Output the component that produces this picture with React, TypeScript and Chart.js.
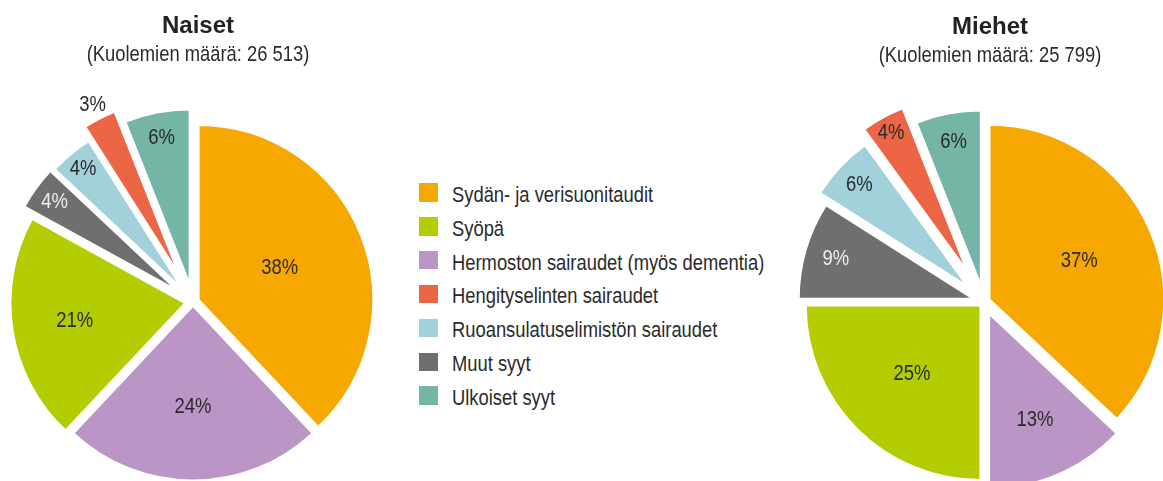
import React, { useEffect, useRef } from 'react';
import { Chart, registerables, layouts } from 'chart.js';

Chart.register(...registerables);

// ---------- data ----------
const causes = [
  'Sydän- ja verisuonitaudit',
  'Hermoston sairaudet (myös dementia)',
  'Syöpä',
  'Muut syyt',
  'Ruoansulatuselimistön sairaudet',
  'Hengityselinten sairaudet',
  'Ulkoiset syyt',
];
const naisetShares = [38, 24, 21, 4, 4, 3, 6];
const miehetShares = [37, 13, 25, 9, 6, 4, 6];
const naisetDeaths = '26 513';
const miehetDeaths = '25 799';
const legendOrder = [
  'Sydän- ja verisuonitaudit',
  'Syöpä',
  'Hermoston sairaudet (myös dementia)',
  'Hengityselinten sairaudet',
  'Ruoansulatuselimistön sairaudet',
  'Muut syyt',
  'Ulkoiset syyt',
];

// ---------- styles ----------
const causeColors: Record<string, string> = {
  'Sydän- ja verisuonitaudit': '#F7A800',
  'Hermoston sairaudet (myös dementia)': '#BA95C6',
  'Syöpä': '#B4CC02',
  'Muut syyt': '#6F6F6F',
  'Ruoansulatuselimistön sairaudet': '#A2D1DC',
  'Hengityselinten sairaudet': '#EC6544',
  'Ulkoiset syyt': '#74B5A6',
};
const labelColorFor = (c: string) => (c === 'Muut syyt' ? '#eeeeee' : '#2a2a2a');
const SANS = "'Liberation Sans', Arial, sans-serif";
const CONDENSE = 0.82; // emulate a condensed face
const TEXT = '#2b2b2b';

// per-slice explode distance (px) and label radius (fraction of radius)
const naisetExplode = [6, 4, 8, 19, 17, 31, 18];
const miehetExplode = [6, 13, 5, 11, 22.5, 35.5, 17];
const naisetLabelR = [0.5, 0.58, 0.64, 0.87, 0.89, 1.09, 0.855];
const miehetLabelR = [0.56, 0.66, 0.555, 0.82, 0.85, 0.9, 0.835];

// ---------- plugins ----------
function baseBox(position: string, weight: number, fullSize: boolean) {
  return {
    position,
    weight,
    fullSize,
    options: { display: true },
    left: 0, top: 0, right: 0, bottom: 0, width: 0, height: 0,
    isHorizontal() {
      return position === 'top' || position === 'bottom';
    },
  };
}

function makeSpacer(size: number) {
  return {
    id: 'spacer',
    start(chart: any) {
      const box: any = {
        ...baseBox('right', 0, false),
        update(_w: number, maxHeight: number) {
          this.width = size;
          this.height = maxHeight;
        },
        draw() {},
      };
      layouts.addBox(chart, box);
    },
  };
}

function makeSubtitle(text: string, height: number, baseline: number) {
  return {
    id: 'condensedSubtitle',
    start(chart: any) {
      const box: any = {
        ...baseBox('top', 1500, true),
        update(maxWidth: number) {
          this.width = maxWidth;
          this.height = height;
        },
        draw() {
          const ctx = chart.ctx;
          ctx.save();
          ctx.font = `22.4px ${SANS}`;
          ctx.fillStyle = TEXT;
          ctx.textAlign = 'center';
          ctx.textBaseline = 'alphabetic';
          const w = ctx.measureText(text).width;
          ctx.fillText(text, (this.left + this.right) / 2, this.top + baseline, w * CONDENSE);
          ctx.restore();
        },
      };
      layouts.addBox(chart, box);
    },
  };
}

function makeExplode(offsets: number[]) {
  return {
    id: 'explode',
    afterDatasetUpdate(_chart: any, args: any) {
      args.meta.data.forEach((arc: any, i: number) => {
        const mid = (arc.startAngle + arc.endAngle) / 2;
        const o = offsets[i] || 0;
        arc.x += Math.cos(mid) * o;
        arc.y += Math.sin(mid) * o;
      });
    },
  };
}

function makeLabels(radii: number[]) {
  return {
    id: 'sliceLabels',
    afterDatasetsDraw(chart: any) {
      const ctx = chart.ctx;
      const meta = chart.getDatasetMeta(0);
      const values = chart.data.datasets[0].data as number[];
      ctx.save();
      ctx.font = `22.5px ${SANS}`;
      ctx.textAlign = 'center';
      ctx.textBaseline = 'middle';
      meta.data.forEach((arc: any, i: number) => {
        const mid = (arc.startAngle + arc.endAngle) / 2;
        const r = arc.outerRadius * radii[i];
        const text = `${values[i]}%`;
        const w = ctx.measureText(text).width;
        ctx.fillStyle = labelColorFor(causes[i]);
        ctx.fillText(text, arc.x + Math.cos(mid) * r, arc.y + Math.sin(mid) * r, w * CONDENSE);
      });
      ctx.restore();
    },
  };
}

// ---------- components ----------
type PieProps = {
  left: number;
  top: number;
  width: number;
  height: number;
  shift: number;
  title: string;
  subtitle: string;
  values: number[];
  explode: number[];
  labelR: number[];
};

function PieChart({ left, top, width, height, shift, title, subtitle, values, explode, labelR }: PieProps) {
  const ref = useRef<HTMLCanvasElement>(null);
  useEffect(() => {
    if (!ref.current) return;
    const chart = new Chart(ref.current, {
      type: 'pie',
      data: {
        labels: causes,
        datasets: [
          {
            data: values,
            backgroundColor: causes.map((c) => causeColors[c]),
            borderColor: '#ffffff',
            borderWidth: 2,
            radius: 174.7,
            hoverOffset: 0,
            clip: false,
          } as any,
        ],
      },
      options: {
        responsive: false,
        animation: false,
        events: [],
        layout: { padding: 0 },
        plugins: {
          legend: { display: false },
          tooltip: { enabled: false },
          title: {
            display: true,
            text: title,
            color: '#222222',
            font: { family: SANS, size: 24, weight: 'bold', lineHeight: 1 },
            padding: { top: 14.7, bottom: 0 },
          },
        },
      } as any,
      plugins: [
        makeSpacer(shift),
        makeSubtitle(subtitle, 26, 22.3),
        makeExplode(explode),
        makeLabels(labelR),
      ] as any,
    });
    return () => chart.destroy();
  }, []);
  return (
    <canvas
      ref={ref}
      width={width}
      height={height}
      style={{ position: 'absolute', left, top, width, height }}
    />
  );
}

function Legend() {
  return (
    <div style={{ position: 'absolute', left: 419.3, top: 183.3 }}>
      {legendOrder.map((c, i) => (
        <div key={c} style={{ position: 'absolute', left: 0, top: i * 33.85, width: 360, height: 20 }}>
          <div
            style={{
              position: 'absolute',
              left: 0,
              top: 0,
              width: 18.5,
              height: 18.5,
              background: causeColors[c],
            }}
          />
          <span
            style={{
              position: 'absolute',
              left: 32.4,
              top: 0.6,
              fontFamily: SANS,
              fontSize: 22.4,
              lineHeight: 1,
              color: TEXT,
              whiteSpace: 'nowrap',
              transform: `scaleX(${CONDENSE})`,
              transformOrigin: '0 0',
            }}
          >
            {c}
          </span>
        </div>
      ))}
    </div>
  );
}

export default function App() {
  return (
    <div
      style={{
        position: 'fixed',
        left: 0,
        top: 0,
        width: 1163,
        height: 481,
        overflow: 'hidden',
        background: '#ffffff',
      }}
    >
      <PieChart
        left={0}
        top={0}
        width={396}
        height={539}
        shift={10}
        title="Naiset"
        subtitle={`(Kuolemien määrä: ${naisetDeaths})`}
        values={naisetShares}
        explode={naisetExplode}
        labelR={naisetLabelR}
      />
      <Legend />
      <PieChart
        left={790}
        top={1}
        width={400}
        height={537}
        shift={12}
        title="Miehet"
        subtitle={`(Kuolemien määrä: ${miehetDeaths})`}
        values={miehetShares}
        explode={miehetExplode}
        labelR={miehetLabelR}
      />
    </div>
  );
}
